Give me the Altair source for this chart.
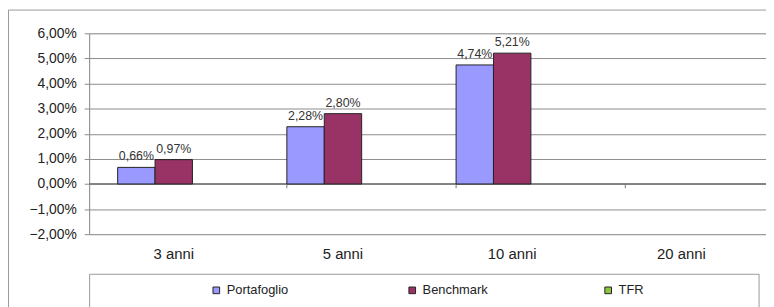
import altair as alt
import pandas as pd

categories = ["3 anni", "5 anni", "10 anni", "20 anni"]
series = ["Portafoglio", "Benchmark", "TFR"]
portafoglio = [0.66, 2.28, 4.74, None]
benchmark = [0.97, 2.80, 5.21, None]
tfr = [None, None, None, None]
colors = ["#9999FF", "#993366", "#8DC63F"]
y_ticks = [-2, -1, 0, 1, 2, 3, 4, 5, 6]
boundary_cats = ["5 anni", "10 anni", "20 anni"]

rows = []
for s, vals in zip(series, [portafoglio, benchmark, tfr]):
    for c, v in zip(categories, vals):
        if v is not None:
            rows.append({"cat": c, "serie": s, "val": v,
                         "lab": f"{v:.2f}".replace(".", ",") + "%"})
df = pd.DataFrame(rows)
bnd = pd.DataFrame({"cat": boundary_cats, "val": [0.0] * 3, "y1": [-0.17] * 3})
one = pd.DataFrame({"a": [0]})

FONT = "Liberation Sans"
GRID = "#8c8c8c"

y_scale = alt.Scale(domain=[-2, 6], nice=False, zero=False)
x_scale = alt.Scale(domain=categories, paddingInner=0.337, paddingOuter=0.1685)
x_axis = alt.Axis(title=None, labelAngle=0, ticks=False, domain=False,
                  labelFontSize=15, labelPadding=13, labelColor="#222", labelFont=FONT)
y_axis = alt.Axis(title=None, values=y_ticks, labelOverlap=False,
                  labelExpr="replace(format(datum.value, '.2f'), '.', ',') + '%'",
                  grid=True, gridColor=GRID, domainColor=GRID, tickColor=GRID,
                  tickSize=5, labelPadding=8, labelFontSize=14, labelFont=FONT,
                  labelColor="#222")

x_enc = alt.X("cat:N", sort=categories, scale=x_scale, axis=x_axis)
xo = alt.XOffset("serie:N", sort=series,
                 scale=alt.Scale(domain=series, paddingInner=0, paddingOuter=0))
y_enc = alt.Y("val:Q", scale=y_scale, axis=y_axis)
color = alt.Color("serie:N",
                  scale=alt.Scale(domain=series, range=colors),
                  legend=alt.Legend(title=None, orient="none", legendX=122, legendY=253,
                                    direction="horizontal", columns=3, gridAlign="all",
                                    columnPadding=115, symbolType="square", symbolSize=45,
                                    symbolStrokeColor="#222", symbolStrokeWidth=1,
                                    labelFontSize=13, labelFont=FONT, labelColor="#222",
                                    labelOffset=4, padding=0))

frame_left = alt.Chart(one).mark_rule(color="#999", strokeWidth=1).encode(
    x=alt.value(-81.5), y=alt.value(-23.5), y2=alt.value(300))
frame_top = alt.Chart(one).mark_rule(color="#999", strokeWidth=1).encode(
    x=alt.value(-81.5), x2=alt.value(700), y=alt.value(-23.5))
legend_box = alt.Chart(one).mark_rect(fill="white", stroke="#999", strokeWidth=1).encode(
    x=alt.value(0.5), x2=alt.value(677), y=alt.value(243.5), y2=alt.value(300))
ticks = alt.Chart(bnd).mark_rule(color="#7a7a7a", strokeWidth=1).encode(
    x=alt.X("cat:N", sort=categories, bandPosition=0, scale=x_scale, axis=x_axis),
    y=y_enc, y2="y1:Q")
zero = alt.Chart(bnd).mark_rule(color="#7a7a7a", strokeWidth=1).encode(
    y=y_enc)
bars = alt.Chart(df).mark_bar(stroke="#222", strokeWidth=1).encode(
    x=x_enc, xOffset=xo, y=y_enc, color=color)
labels = alt.Chart(df).mark_text(fontSize=12.5, dy=-7, baseline="alphabetic",
                                 color="#333", font=FONT).encode(
    x=x_enc, xOffset=xo, y=y_enc, text="lab:N")

chart = alt.layer(frame_left, frame_top, legend_box, zero, ticks, bars, labels).properties(
    width=684, height=203,
    autosize=alt.AutoSizeParams(type="none"),
    padding={"left": 82, "top": 24, "right": 0, "bottom": 72},
).configure_view(stroke=None).configure(background="white")

chart.save("out.html", embed_options={"renderer": "svg", "actions": False})
